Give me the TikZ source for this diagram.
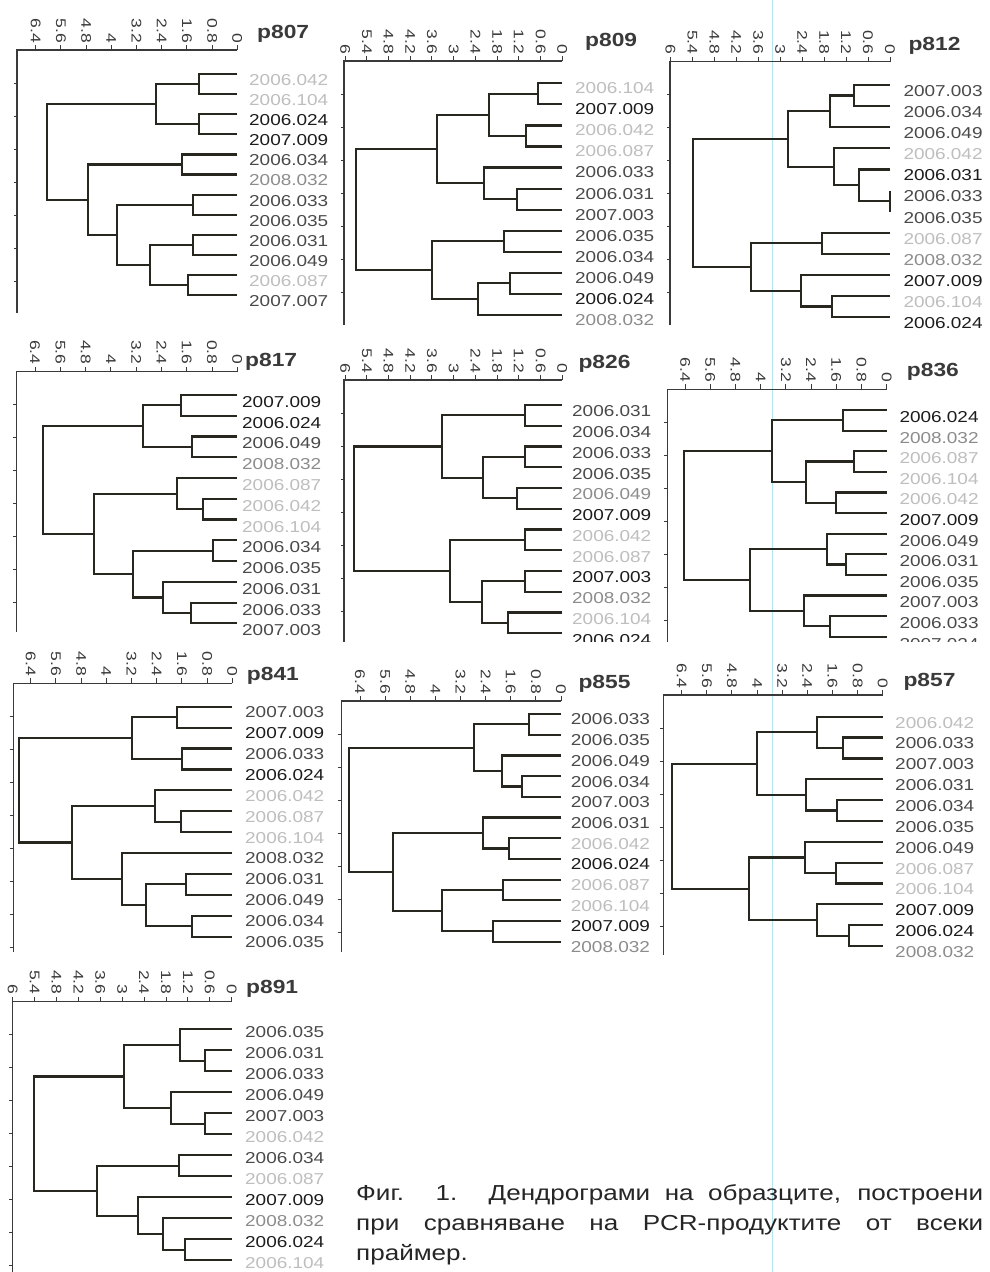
\documentclass[tikz,border=0pt]{standalone}
\usepackage{fontspec}
\setmainfont{Liberation Sans}
\usepackage{graphicx}
\usetikzlibrary{calc}
\definecolor{dk}{HTML}{1C1C1C}
\definecolor{md}{HTML}{4A4A4A}
\definecolor{lt}{HTML}{8C8C8C}
\definecolor{vl}{HTML}{BEBEBE}
\definecolor{treec}{HTML}{27271F}
\definecolor{axc}{HTML}{3A3A3A}
\definecolor{scanline}{HTML}{B4E6F0}
\newcommand\lab[1]{\scalebox{1.2}[1]{#1}}
\newcommand\tlab[1]{\scalebox{1.25}[1]{#1}}
\newcommand\ttl[1]{\scalebox{1.2}[1]{#1}}
\tikzset{
 tree/.style={draw=treec, line width=2.2pt},
 axisline/.style={draw=axc, line width=1.2pt},
 tck/.style={draw=axc, line width=1pt},
 leaflab/.style={anchor=west, inner sep=0pt, font=\fontsize{15.8}{16}\selectfont},
 ticklab/.style={rotate=-90, anchor=east, inner sep=0pt, text=axc, font=\fontsize{14}{14}\selectfont},
 titlelab/.style={anchor=base west, inner sep=0pt, text=axc, font=\bfseries\fontsize{19}{19}\selectfont},
 captionlab/.style={anchor=base west, inner sep=0pt, text=black!85, font=\fontsize{21.7}{21.7}\selectfont}
}
\newcommand\J[4]{%
 \path let \p1=(#3), \p2=(#4) in (#2pt,{0.5*\y1+0.5*\y2}) coordinate (#1);
 \draw[tree] let \p1=(#3), \p2=(#4) in (\x1,\y1) -- (#2pt,\y1) -- (#2pt,\y2) -- (\x2,\y2);
}
\newcommand\Leaves[2]{%
 \foreach \ltxt/\lcol [count=\n from 0] in {#2}{%
  \coordinate (#1\n) at (\LX,{\LY+\n*\LS});
  \node[leaflab,text=\lcol,yshift=-\LO pt] (#1\n-t) at (\LT,{\LY+\n*\LS}) {\lab{\ltxt}};
 }%
}
\newcommand\Axis[6]{%
 \draw[axisline] (#1,#5) -- (#1,#2) -- (#3,#2);
 \foreach \t in {#6}{%
  \draw[tck] ({#3-\t*#4},#2) -- ({#3-\t*#4},{#2-5});
  \node[ticklab] at ({#3-\t*#4},{#2-7}) {\tlab{\t}};
 }%
 \foreach \k in {1,...,8}{%
  \pgfmathsetmacro\yy{#2+33*\k}%
  \ifdim\yy pt<#5pt\relax \draw[tck] (#1,\yy) -- ({#1-3.5},\yy);\fi
 }%
}
\begin{document}
\begin{tikzpicture}[x=1pt,y=-1pt]
\fill[white] (0,0) rectangle (989,1272);
\useasboundingbox (0,0) rectangle (989,1272);
\draw[scanline, line width=1pt] (772,0) -- (772,1272);

% ---------- p807 ----------
\node[titlelab] (tA) at (257,38) {\ttl{p807}};
\Axis{17}{50}{237.3}{31.5}{313}{6.4,5.6,4.8,4,3.2,2.4,1.6,0.8,0}
\def\LX{237.3}\def\LY{74}\def\LS{20.1}\def\LT{249}\def\LO{6}
\Leaves{a}{2006.042/vl,2006.104/vl,2006.024/dk,2007.009/dk,2006.034/md,2008.032/lt,2006.033/md,2006.035/md,2006.031/md,2006.049/md,2006.087/vl,2007.007/md}
\J{aA}{199.3}{a0}{a1}
\J{aB}{199.3}{a2}{a3}
\J{aC}{156}{aA}{aB}
\J{aD}{181.7}{a4}{a5}
\J{aE}{192.7}{a6}{a7}
\J{aF}{192.7}{a8}{a9}
\J{aG}{188.3}{a10}{a11}
\J{aH}{150}{aF}{aG}
\J{aI}{117.3}{aE}{aH}
\J{aJ}{88.3}{aD}{aI}
\J{aR}{46.7}{aC}{aJ}

% ---------- p809 ----------
\node[titlelab] (tB) at (585,46.7) {\ttl{p809}};
\Axis{344}{61}{562.3}{36.2}{325}{6,5.4,4.8,4.2,3.6,3,2.4,1.8,1.2,0.6,0}
\def\LX{562.3}\def\LY{83.3}\def\LS{21.06}\def\LT{575}\def\LO{5}
\Leaves{b}{2006.104/vl,2007.009/dk,2006.042/vl,2006.087/vl,2006.033/md,2006.031/md,2007.003/md,2006.035/md,2006.034/md,2006.049/md,2006.024/dk,2008.032/lt}
\J{bA}{538.3}{b0}{b1}
\J{bB}{526}{b2}{b3}
\J{bC}{489.3}{bA}{bB}
\J{bD}{517.3}{b5}{b6}
\J{bE}{484.3}{b4}{bD}
\J{bF}{436.7}{bC}{bE}
\J{bG}{504}{b7}{b8}
\J{bH}{510}{b9}{b10}
\J{bI}{477.7}{bH}{b11}
\J{bJ}{431.7}{bG}{bI}
\J{bR}{355.7}{bF}{bJ}

% ---------- p812 ----------
\node[titlelab] (tC) at (908.3,50) {\ttl{p812}};
\Axis{670}{61.7}{890}{36.6}{325}{6,5.4,4.8,4.2,3.6,3,2.4,1.8,1.2,0.6,0}
\def\LX{890}\def\LY{85}\def\LS{21.1}\def\LT{903.3}\def\LO{6}
\Leaves{c}{2007.003/md,2006.034/md,2006.049/md,2006.042/vl,2006.031/dk,2006.033/md,2006.035/md,2006.087/vl,2008.032/lt,2007.009/dk,2006.104/vl,2006.024/dk}
\J{cA}{854}{c0}{c1}
\J{cB}{830}{cA}{c2}
\J{cC}{890}{c5}{c6}
\J{cD}{859.3}{c4}{cC}
\J{cE}{834.3}{c3}{cD}
\J{cF}{788.3}{cB}{cE}
\J{cG}{821.7}{c7}{c8}
\J{cH}{831.7}{c10}{c11}
\J{cI}{801}{c9}{cH}
\J{cJ}{751}{cG}{cI}
\J{cR}{693.3}{cF}{cJ}

% ---------- p817 ----------
\node[titlelab] (tD) at (245,366.7) {\ttl{p817}};
\Axis{16.7}{371.7}{237.3}{31.6}{631.7}{6.4,5.6,4.8,4,3.2,2.4,1.6,0.8,0}
\def\LX{237.3}\def\LY{395}\def\LS{20.76}\def\LT{242}\def\LO{7}
\Leaves{d}{2007.009/dk,2006.024/dk,2006.049/md,2008.032/lt,2006.087/vl,2006.042/vl,2006.104/vl,2006.034/md,2006.035/md,2006.031/md,2006.033/md,2007.003/md}
\J{dA}{181}{d0}{d1}
\J{dB}{191.7}{d2}{d3}
\J{dC}{142.7}{dA}{dB}
\J{dD}{203.3}{d5}{d6}
\J{dE}{176.7}{d4}{dD}
\J{dF}{213.3}{d7}{d8}
\J{dG}{190.7}{d10}{d11}
\J{dH}{163.3}{d9}{dG}
\J{dI}{133.3}{dF}{dH}
\J{dJ}{94}{dE}{dI}
\J{dR}{43.3}{dC}{dJ}

\begin{scope}
\clip (330,330) rectangle (989,641);
% ---------- p826 ----------
\node[titlelab] (tE) at (578.3,368.3) {\ttl{p826}};
\Axis{344}{380}{562.3}{36.2}{645}{6,5.4,4.8,4.2,3.6,3,2.4,1.8,1.2,0.6,0}
\def\LX{562.3}\def\LY{405}\def\LS{20.75}\def\LT{572}\def\LO{6.5}
\Leaves{e}{2006.031/md,2006.034/md,2006.033/md,2006.035/md,2006.049/lt,2007.009/dk,2006.042/vl,2006.087/vl,2007.003/dk,2008.032/lt,2006.104/vl,2006.024/dk}
\J{eA}{525}{e0}{e1}
\J{eB}{525}{e2}{e3}
\J{eC}{516.7}{e4}{e5}
\J{eD}{483.3}{eB}{eC}
\J{eE}{441.7}{eA}{eD}
\J{eF}{525}{e6}{e7}
\J{eG}{525}{e8}{e9}
\J{eH}{508.3}{e10}{e11}
\J{eI}{481.7}{eG}{eH}
\J{eJ}{450}{eF}{eI}
\J{eR}{354}{eE}{eJ}

% ---------- p836 ----------
\node[titlelab] (tF) at (906.7,376.7) {\ttl{p836}};
\Axis{667.3}{389.3}{886.7}{31.5}{645}{6.4,5.6,4.8,4,3.2,2.4,1.6,0.8,0}
\def\LX{886.7}\def\LY{410}\def\LS{20.6}\def\LT{899.3}\def\LO{7}
\Leaves{f}{2006.024/dk,2008.032/lt,2006.087/vl,2006.104/vl,2006.042/vl,2007.009/dk,2006.049/md,2006.031/md,2006.035/md,2007.003/md,2006.033/md,2007.024/md}
\J{fA}{842.7}{f0}{f1}
\J{fB}{854.3}{f2}{f3}
\J{fC}{835.7}{f4}{f5}
\J{fD}{805.7}{fB}{fC}
\J{fE}{772.3}{fA}{fD}
\J{fF}{845.7}{f7}{f8}
\J{fG}{826.7}{f6}{fF}
\J{fH}{830}{f10}{f11}
\J{fI}{804}{f9}{fH}
\J{fJ}{750}{fG}{fI}
\J{fR}{684}{fE}{fJ}
\end{scope}

% ---------- p841 ----------
\node[titlelab] (tG) at (246.7,680) {\ttl{p841}};
\Axis{13.3}{683.3}{232.3}{31.5}{951.7}{6.4,5.6,4.8,4,3.2,2.4,1.6,0.8,0}
\def\LX{232.3}\def\LY{706.7}\def\LS{20.9}\def\LT{245}\def\LO{5.5}
\Leaves{g}{2007.003/md,2007.009/dk,2006.033/md,2006.024/dk,2006.042/vl,2006.087/vl,2006.104/vl,2008.032/md,2006.031/md,2006.049/md,2006.034/md,2006.035/md}
\J{gA}{176.7}{g0}{g1}
\J{gB}{181.7}{g2}{g3}
\J{gC}{132.3}{gA}{gB}
\J{gD}{180.7}{g5}{g6}
\J{gE}{155}{g4}{gD}
\J{gF}{185.7}{g8}{g9}
\J{gG}{192.3}{g10}{g11}
\J{gH}{145.7}{gF}{gG}
\J{gI}{122.3}{g7}{gH}
\J{gJ}{72.3}{gE}{gI}
\J{gR}{19}{gC}{gJ}

% ---------- p855 ----------
\node[titlelab] (tH) at (578.3,688.3) {\ttl{p855}};
\Axis{341.7}{701}{561}{31.4}{951.7}{6.4,5.6,4.8,4,3.2,2.4,1.6,0.8,0}
\def\LX{561}\def\LY{714}\def\LS{20.7}\def\LT{570.7}\def\LO{5.5}
\Leaves{h}{2006.033/md,2006.035/md,2006.049/md,2006.034/md,2007.003/md,2006.031/md,2006.042/vl,2006.024/dk,2006.087/vl,2006.104/vl,2007.009/dk,2008.032/lt}
\J{hA}{529.3}{h0}{h1}
\J{hB}{521.7}{h3}{h4}
\J{hC}{501.7}{h2}{hB}
\J{hD}{474}{hA}{hC}
\J{hE}{509.3}{h6}{h7}
\J{hF}{483.3}{h5}{hE}
\J{hG}{503.3}{h8}{h9}
\J{hH}{492.7}{h10}{h11}
\J{hI}{442.3}{hG}{hH}
\J{hJ}{393.3}{hF}{hI}
\J{hR}{349.3}{hD}{hJ}

% ---------- p857 ----------
\node[titlelab] (tI) at (903.3,686.7) {\ttl{p857}};
\Axis{663.3}{695}{882.7}{31.4}{955}{6.4,5.6,4.8,4,3.2,2.4,1.6,0.8,0}
\def\LX{882.7}\def\LY{716.7}\def\LS{20.85}\def\LT{895}\def\LO{6}
\Leaves{i}{2006.042/vl,2006.033/md,2007.003/md,2006.031/md,2006.034/md,2006.035/md,2006.049/md,2006.087/vl,2006.104/vl,2007.009/dk,2006.024/dk,2008.032/lt}
\J{iA}{843.3}{i1}{i2}
\J{iB}{816.7}{i0}{iA}
\J{iC}{836.7}{i4}{i5}
\J{iD}{805.7}{i3}{iC}
\J{iE}{757.3}{iB}{iD}
\J{iF}{836}{i7}{i8}
\J{iG}{805}{i6}{iF}
\J{iH}{849.3}{i10}{i11}
\J{iI}{817.3}{i9}{iH}
\J{iJ}{749.3}{iG}{iI}
\J{iR}{672.3}{iE}{iJ}

% ---------- p891 ----------
\node[titlelab] (tK) at (246,993.3) {\ttl{p891}};
\Axis{12.7}{1001.7}{231.7}{36.5}{1272}{6,5.4,4.8,4.2,3.6,3,2.4,1.8,1.2,0.6,0}
\def\LX{231.7}\def\LY{1029.3}\def\LS{21.0}\def\LT{245}\def\LO{2.5}
\Leaves{k}{2006.035/md,2006.031/md,2006.033/md,2006.049/md,2007.003/md,2006.042/vl,2006.034/md,2006.087/vl,2007.009/dk,2008.032/lt,2006.024/dk,2006.104/vl}
\J{kA}{205}{k1}{k2}
\J{kB}{180}{k0}{kA}
\J{kC}{205}{k4}{k5}
\J{kD}{170.7}{k3}{kC}
\J{kE}{124}{kB}{kD}
\J{kF}{179.3}{k6}{k7}
\J{kG}{185}{k10}{k11}
\J{kH}{163.3}{k9}{kG}
\J{kI}{138.3}{k8}{kH}
\J{kJ}{96.7}{kF}{kI}
\J{kR}{34.3}{kE}{kJ}

% ---------- caption ----------
\node[captionlab] (cap1) at (356,1200) {\scalebox{1.2}[1]{\makebox[522.5pt][s]{Фиг. 1. Дендрограми на образците, построени}}};
\node[captionlab] (cap2) at (356,1230) {\scalebox{1.2}[1]{\makebox[522.5pt][s]{при сравняване на PCR-продуктите от всеки}}};
\node[captionlab] (cap3) at (356,1260) {\scalebox{1.2}[1]{праймер.}};
\end{tikzpicture}
\end{document}
